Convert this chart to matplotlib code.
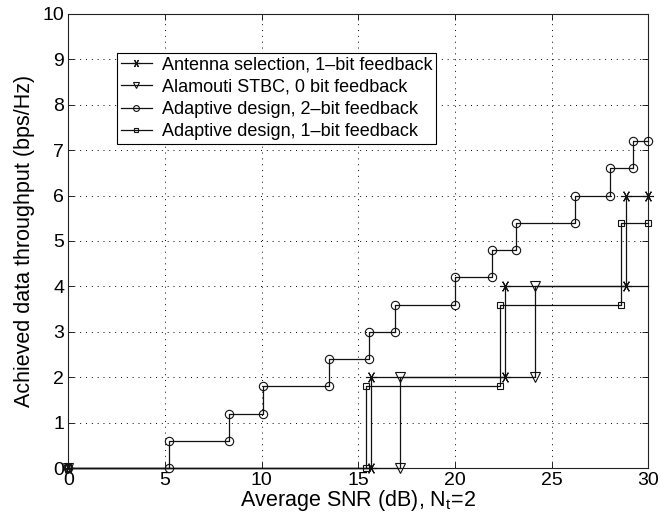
import matplotlib
matplotlib.use("Agg")
import matplotlib.pyplot as plt
import numpy as np

plt.rcParams['font.family'] = ['Liberation Sans', 'DejaVu Sans']
plt.rcParams['mathtext.default'] = 'regular'

# Data: switching SNR thresholds (dB) and throughput levels (bps/Hz)
x_end = 30
ant_thr = [15.65, 22.6, 28.85]
ant_lvl = [0, 2, 4, 6]
ala_thr = [17.15, 24.15]
ala_lvl = [0, 2, 4]
ad2_thr = [5.2, 8.3, 10.05, 13.5, 15.55, 16.9, 20.0, 21.9, 23.15, 26.2, 28.0, 29.2]
ad2_lvl = [0, 0.6, 1.2, 1.8, 2.4, 3.0, 3.6, 4.2, 4.8, 5.4, 6.0, 6.6, 7.2]
ad1_thr = [15.4, 22.35, 28.6]
ad1_lvl = [0, 1.8, 3.6, 5.4]

labels = ["Antenna selection, 1\u2013bit feedback",
          "Alamouti STBC, 0 bit feedback",
          "Adaptive design, 2\u2013bit feedback",
          "Adaptive design, 1\u2013bit feedback"]


def steps(thr, lvl):
    xs = [0.0]
    ys = [lvl[0]]
    for t, a, b in zip(thr, lvl[:-1], lvl[1:]):
        xs += [t, t]
        ys += [a, b]
    xs.append(x_end)
    ys.append(lvl[-1])
    return np.array(xs), np.array(ys)


fig = plt.figure(figsize=(6.6, 5.29), dpi=100)
ax = fig.add_axes([0.1035, 0.1153, 0.8788, 0.8583])

lc = '#111111'
series = [
    (ant_thr, ant_lvl, (6, 2, 90), 8, None),
    (ala_thr, ala_lvl, 'v', 7, 'nolast'),
    (ad2_thr, ad2_lvl, 'o', 6, None),
    (ad1_thr, ad1_lvl, 's', 4.5, None),
]
for (thr, lvl, m, ms, mode), lab in zip(series, labels):
    xs, ys = steps(thr, lvl)
    me = None
    if mode == 'nolast':
        me = list(range(len(xs) - 1))
    ax.plot(xs, ys, color=lc, lw=0.9, marker=m, ms=ms, mfc='none',
            mec=lc, mew=0.8, markevery=me, label=lab, clip_on=False, zorder=3)

ax.set_xlim(0, 30)
ax.set_ylim(0, 10)
ax.set_xticks(np.arange(0, 31, 5))
ax.set_yticks(np.arange(0, 11, 1))
ax.tick_params(direction='in', top=True, right=True, labelsize=14, length=4,
               width=0.6, pad=3)
ax.grid(True, color='black', linestyle=(0, (1, 5)), linewidth=0.7)
for s in ax.spines.values():
    s.set_linewidth(0.8)
    s.set_color('#222222')

ax.set_xlabel('Average SNR (dB), N$_{t}$=2', fontsize=15.5, labelpad=-1)
ax.set_ylabel('Achieved data throughput (bps/Hz)', fontsize=15.5, labelpad=5)

leg = ax.legend(loc='upper left', bbox_to_anchor=(0.084, 0.915), fontsize=13,
                fancybox=False, edgecolor='black', framealpha=1,
                handlelength=1.75, handletextpad=0.55, borderpad=0.2,
                labelspacing=0.3, markerscale=0.7, borderaxespad=0)
leg.get_frame().set_linewidth(0.8)

fig.savefig('out.png', dpi=100)
